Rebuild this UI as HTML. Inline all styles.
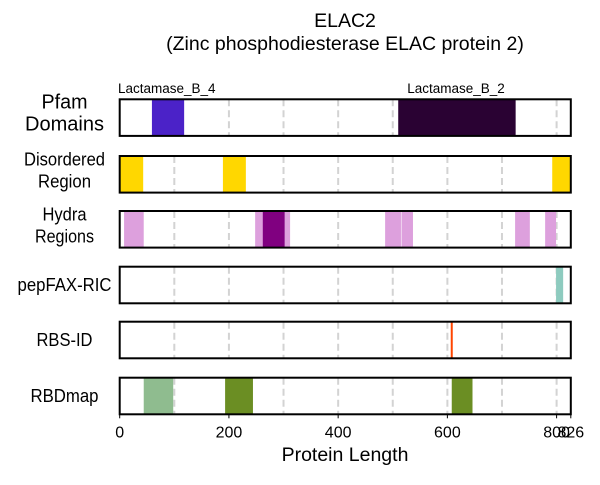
<!DOCTYPE html>
<html><head><meta charset="utf-8"><style>
body{margin:0;background:#fff;}
svg text{font-family:"Liberation Sans",Arial,sans-serif;}
</style></head><body>
<svg id="chart" width="600" height="480">
<text x="345" y="27" font-size="19.5" text-anchor="middle">ELAC2</text>
<text x="345" y="50" font-size="19.5" text-anchor="middle">(Zinc phosphodiesterase ELAC protein 2)</text>
<g id="plot"></g>
<text x="345" y="461" font-size="19.5" text-anchor="middle">Protein Length</text>
</svg>
<script>
const proteinLength = 826;
const tickValues = [0, 200, 400, 600, 800, 826];
const gridValues = [100, 200, 300, 400, 500, 600, 700, 800];
const rowNames = ["Pfam Domains", "Disordered Region", "Hydra Regions", "pepFAX-RIC", "RBS-ID", "RBDmap"];
const pfamStarts = [59, 510];
const pfamEnds = [118, 725];
const pfamLabels = ["Lactamase_B_4", "Lactamase_B_2"];
const pfamColors = ["#4b22c8", "#2a0233"];
const disorderStarts = [0, 189, 792];
const disorderEnds = [43, 231, 826];
const hydraStarts = [8, 248, 486, 516, 724, 779];
const hydraEnds = [44, 312, 515, 537, 751, 799];
const hydraDarkStarts = [262];
const hydraDarkEnds = [302];
const pepfaxStarts = [799];
const pepfaxEnds = [812];
const rbsSites = [608];
const rbdStarts = [44, 193, 608];
const rbdEnds = [98, 244, 646];
const rbdColors = ["#8fbc8f", "#6b8e23", "#6b8e23"];

const NS = "http://www.w3.org/2000/svg";
const x0 = 119.7, x1 = 570.8;
const xs = v => x0 + (v / proteinLength) * (x1 - x0);
const rowTops = [99.3, 156, 211, 266.7, 321.7, 377.7];
const rowH = 36.6;
const labelParts = [["Pfam", "Domains"], ["Disordered", "Region"], ["Hydra", "Regions"], ["pepFAX-RIC"], ["RBS-ID"], ["RBDmap"]];
const labelWidths = [[46, 79], [81, 53], [44, 59], [94], [56], [68]];
const plot = document.getElementById("plot");
function mk(tag, attrs) { const e = document.createElementNS(NS, tag); for (const k in attrs) e.setAttribute(k, attrs[k]); plot.appendChild(e); return e; }

function rect(row, s, e, color, name) {
  const r = mk("rect", {x: xs(s), y: rowTops[row], width: xs(e) - xs(s), height: rowH, fill: color});
  
  
}

rowTops.forEach(t => {
  gridValues.forEach(g => {
    const l = mk("line", {x1: xs(g), x2: xs(g), y1: t, y2: t + rowH, stroke: "#d3d3d3", "stroke-width": 2, "stroke-dasharray": "7,4"});
    
    
  });
});

pfamStarts.forEach((s, i) => {
  rect(0, s, pfamEnds[i], pfamColors[i], 'pfam-domain');
  const t = mk("text", {x: i === 0 ? 118 : xs(s) + 9, y: 93, "font-size": 13.5});
  t.textContent = pfamLabels[i];
  
  
});
disorderStarts.forEach((s, i) => rect(1, s, disorderEnds[i], "#ffd700", 'disordered-segment'));
hydraStarts.forEach((s, i) => rect(2, s, hydraEnds[i], "#dda0dd", 'hydra-segment'));
hydraDarkStarts.forEach((s, i) => rect(2, s, hydraDarkEnds[i], "#800080", 'hydra-core-segment'));
pepfaxStarts.forEach((s, i) => rect(3, s, pepfaxEnds[i], "#8ecbbf", 'pepfax-segment'));
rbsSites.forEach(v => {
  const l = mk("line", {x1: xs(v), x2: xs(v), y1: rowTops[4], y2: rowTops[4] + rowH, stroke: "#ff4500", "stroke-width": 2});
  
  
});
rbdStarts.forEach((s, i) => rect(5, s, rbdEnds[i], rbdColors[i], 'rbdmap-segment'));

rowTops.forEach((t, i) => {
  const b = mk("rect", {x: x0, y: t, width: x1 - x0, height: rowH, fill: "none", stroke: "#000", "stroke-width": 2});
  
  
  const parts = labelParts[i];
  const fs = i === 0 ? 20 : 18;
  const cy = t + rowH / 2;
  parts.forEach((p, k) => {
    const y = parts.length === 2 ? cy - 3 + (k === 0 ? -6 : 16) : cy + 6;
    const w = labelWidths[i][k];
    const tx = mk("text", {x: 64.5 - w / 2, y: y, "font-size": fs, textLength: w, lengthAdjust: "spacingAndGlyphs"});
    tx.textContent = p;
    
    
  });
});
const axY = rowTops[5] + rowH;
tickValues.forEach(v => {
  const l = mk("line", {x1: xs(v), x2: xs(v), y1: axY, y2: axY + 4, stroke: "#000", "stroke-width": 1});
  
  
  const t = mk("text", {x: xs(v), y: axY + 23, "font-size": 16, "text-anchor": "middle"});
  t.textContent = v;
  
  
});
</script>
</body></html>
